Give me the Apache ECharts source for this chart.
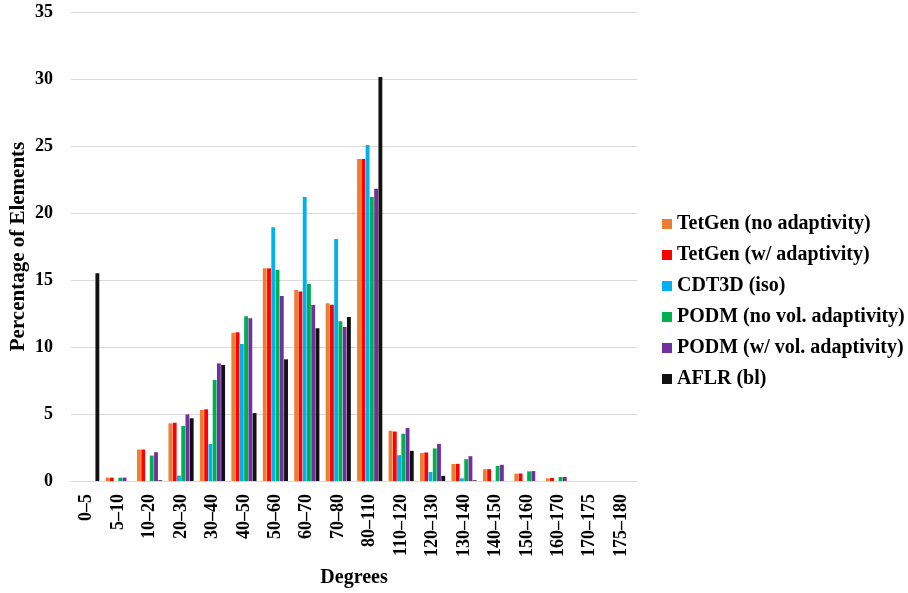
<!DOCTYPE html>
<html>
<head>
<meta charset="utf-8">
<script src="https://cdn.jsdelivr.net/npm/echarts@6/dist/echarts.min.js"></script>
<style>html,body{margin:0;padding:0;background:#fff;}#c{width:908px;height:593px;}</style>
</head>
<body>
<div id="c"></div>
<script>
const categories = ['0–5','5–10','10–20','20–30','30–40','40–50','50–60','60–70','70–80','80–110','110–120','120–130','130–140','140–150','150–160','160–170','170–175','175–180'];
const seriesNames = ['TetGen (no adaptivity)','TetGen (w/ adaptivity)','CDT3D (iso)','PODM (no vol. adaptivity)','PODM (w/ vol. adaptivity)','AFLR (bl)'];
const tetgenNo   = [0, 0.25, 2.35, 4.30, 5.30, 11.07, 15.87, 14.25, 13.26, 24.03, 3.75, 2.09, 1.27, 0.88, 0.55, 0.20, 0, 0];
const tetgenW    = [0, 0.25, 2.35, 4.35, 5.35, 11.10, 15.87, 14.15, 13.16, 24.03, 3.69, 2.13, 1.28, 0.88, 0.56, 0.23, 0, 0];
const cdt3d      = [0, 0, 0, 0.40, 2.76, 10.22, 18.93, 21.20, 18.06, 25.07, 1.93, 0.67, 0.20, 0.02, 0, 0, 0, 0];
const podmNo     = [0, 0.25, 1.90, 4.10, 7.54, 12.30, 15.75, 14.70, 11.92, 21.19, 3.53, 2.43, 1.63, 1.12, 0.72, 0.30, 0, 0];
const podmW      = [0, 0.25, 2.15, 4.97, 8.78, 12.14, 13.80, 13.13, 11.49, 21.81, 3.95, 2.77, 1.85, 1.21, 0.74, 0.30, 0, 0];
const aflr       = [15.5, 0, 0.05, 4.68, 8.66, 5.07, 9.08, 11.39, 12.24, 30.15, 2.25, 0.38, 0.05, 0, 0, 0, 0, 0];
const yTicks = [0, 5, 10, 15, 20, 25, 30, 35];

const allData = [tetgenNo, tetgenW, cdt3d, podmNo, podmW, aflr];
const colors = ['#ED7D31', '#FF0000', '#00B0F0', '#00B050', '#7030A0', '#111111'];
const font = 'Liberation Serif';

const chart = echarts.init(document.getElementById('c'), null, {renderer: 'canvas'});
chart.setOption({
  animation: false,
  backgroundColor: '#fff',
  color: colors,
  grid: {left: 71, right: 271, top: 12, bottom: 112, containLabel: false, outerBoundsMode: 'none'},
  legend: {
    orient: 'vertical', left: 657, top: 209,
    itemWidth: 10, itemHeight: 10, itemGap: 11,
    icon: 'rect',
    data: seriesNames,
    textStyle: {fontFamily: font, fontWeight: 'bold', fontSize: 20, color: '#000', lineHeight: 20, padding: [0, 0, 0, 0]}
  },
  xAxis: {
    type: 'category',
    data: categories,
    name: 'Degrees',
    nameLocation: 'middle',
    nameGap: 87,
    nameMoveOverlap: false,
    nameTextStyle: {fontFamily: font, fontWeight: 'bold', fontSize: 20, color: '#000'},
    axisLine: {show: true, lineStyle: {color: '#d9d9d9', width: 1}},
    axisTick: {show: false},
    axisLabel: {rotate: 90, interval: 0, margin: 13, fontFamily: font, fontWeight: 'bold', fontSize: 18, color: '#000'}
  },
  yAxis: {
    type: 'value',
    min: yTicks[0], max: yTicks[yTicks.length - 1], interval: 5,
    name: 'Percentage of Elements',
    nameLocation: 'middle',
    nameGap: 42,
    nameMoveOverlap: false,
    nameTextStyle: {fontFamily: font, fontWeight: 'bold', fontSize: 21, color: '#000'},
    axisLine: {show: false},
    axisTick: {show: false},
    splitLine: {lineStyle: {color: '#d9d9d9', width: 1}},
    axisLabel: {margin: 18, fontFamily: font, fontWeight: 'bold', fontSize: 18, color: '#000'}
  },
  series: seriesNames.map((n, i) => ({
    name: n,
    type: 'bar',
    data: allData[i],
    barGap: '10%',
    barCategoryGap: '20%',
    itemStyle: {color: colors[i]}
  }))
});
</script>
</body>
</html>
